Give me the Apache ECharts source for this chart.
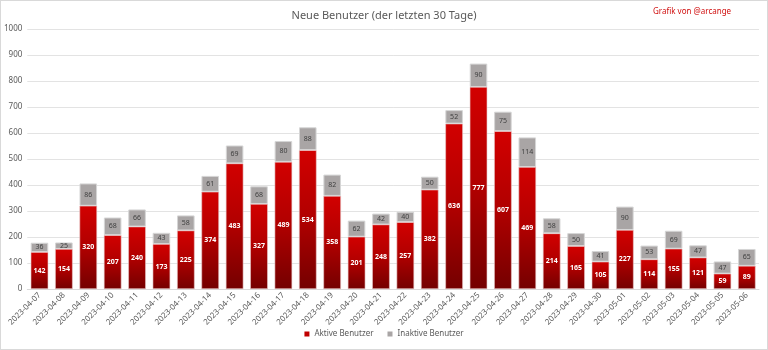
<!DOCTYPE html>
<html><head><meta charset="utf-8">
<script src="https://cdn.jsdelivr.net/npm/echarts@6/dist/echarts.min.js"></script>
<style>html,body{margin:0;padding:0;background:#fff}#c{width:768px;height:350px;box-sizing:border-box;border:1px solid #d9d9d9}</style>
</head><body><div id="c"></div>
<script>
const categories = ["2023-04-07","2023-04-08","2023-04-09","2023-04-10","2023-04-11","2023-04-12","2023-04-13","2023-04-14","2023-04-15","2023-04-16","2023-04-17","2023-04-18","2023-04-19","2023-04-20","2023-04-21","2023-04-22","2023-04-23","2023-04-24","2023-04-25","2023-04-26","2023-04-27","2023-04-28","2023-04-29","2023-04-30","2023-05-01","2023-05-02","2023-05-03","2023-05-04","2023-05-05","2023-05-06"];
const activeUsers = [142,154,320,207,240,173,225,374,483,327,489,534,358,201,248,257,382,636,777,607,469,214,165,105,227,114,155,121,59,89];
const inactiveUsers = [36,25,86,68,66,43,58,61,69,68,80,88,82,62,42,40,50,52,90,75,114,58,50,41,90,53,69,47,47,65];
const yTicks = [0,100,200,300,400,500,600,700,800,900,1000];

const chart = echarts.init(document.getElementById('c'), null, {renderer:'canvas'});
const font = "'Noto Sans', sans-serif";
chart.setOption({
  animation:false,
  textStyle:{fontFamily:font},
  title:[
    {text:'Neue Benutzer (der letzten 30 Tage)',left:'center',top:4,textStyle:{fontSize:11,fontWeight:'normal',color:'#595959',fontFamily:font}},
    {text:'Grafik von @arcange',left:647,top:2,textStyle:{fontSize:8,fontWeight:'normal',color:'#d01010',fontFamily:font}}
  ],
  legend:{bottom:6,left:'center',itemWidth:5,itemHeight:5,itemGap:14,icon:'rect',
    itemStyle:{borderWidth:0},
    textStyle:{fontSize:8,color:'#595959',fontFamily:font},
    data:[{name:'Aktive Benutzer',itemStyle:{color:'#c00000'}},{name:'Inaktive Benutzer',itemStyle:{color:'#a9a5a5'}}]},
  grid:{left:26,right:8,top:28,bottom:60,containLabel:false},
  xAxis:{type:'category',data:categories,
    axisLine:{lineStyle:{color:'#d9d9d9'}},axisTick:{show:false},
    axisLabel:{rotate:45,fontSize:8,color:'#595959',margin:5,interval:0,fontFamily:font}},
  yAxis:{type:'value',min:yTicks[0],max:yTicks[yTicks.length-1],interval:100,
    axisLine:{show:false},axisTick:{show:false},
    splitLine:{lineStyle:{color:'#e3e3e3'}},
    axisLabel:{fontSize:8,color:'#595959',margin:5,fontFamily:font,formatter:v=>String(v)}},
  series:[
    {name:'Aktive Benutzer',type:'bar',stack:'a',data:activeUsers,barCategoryGap:'28%',
      itemStyle:{color:new echarts.graphic.LinearGradient(0,0,0,1,[{offset:0,color:'#d20000'},{offset:0.5,color:'#b00000'},{offset:1,color:'#740000'}]),
        borderColor:'#e8c8c8',borderWidth:0.6},
      label:{show:true,position:'inside',fontSize:7,fontWeight:'bold',color:'#ffffff',fontFamily:font}},
    {name:'Inaktive Benutzer',type:'bar',stack:'a',data:inactiveUsers,
      itemStyle:{color:'#a9a5a5',borderColor:'#d6d6d6',borderWidth:1},
      label:{show:true,position:'inside',fontSize:7,color:'#404040',fontFamily:font}}
  ]
});
</script></body></html>
